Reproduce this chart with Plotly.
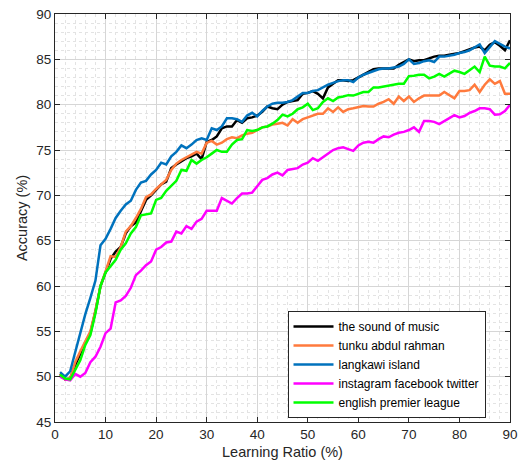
import plotly.graph_objects as go

ratio = list(range(1, 91))

sound_of_music = [
    50.3, 49.7, 49.8, 51.3, 52.5, 53.8, 54.8, 57.2, 60.0, 61.5,
    63.0, 63.8, 64.3, 65.8, 66.6, 67.0, 68.2, 69.5, 70.0, 70.6,
    71.2, 71.5, 73.0, 73.4, 73.8, 74.1, 74.3, 74.6, 74.0, 75.9,
    76.1, 76.5, 77.4, 77.6, 77.6, 78.3, 78.0, 78.5, 78.6, 78.8,
    79.2, 79.8, 79.6, 79.5, 80.0, 80.3, 80.4, 80.5, 81.2, 81.3,
    81.5, 81.2, 80.7, 81.9, 82.3, 82.7, 82.7, 82.6, 82.7, 83.0,
    83.3, 83.6, 83.9, 84.0, 84.0, 84.0, 84.0, 84.4, 84.7, 85.0,
    84.8, 84.9, 84.9, 85.1, 85.3, 85.4, 85.4, 85.5, 85.6, 85.7,
    85.9, 86.1, 86.3, 86.4, 86.0, 86.6, 86.9, 86.5, 86.0, 87.1,
]

tunku_abdul_rahman = [
    50.3, 49.7, 49.8, 51.6, 52.8, 53.9, 55.0, 57.3, 60.0, 61.6,
    63.3, 63.2, 64.3, 66.0, 66.6, 67.5, 68.5, 69.8, 70.1, 70.7,
    71.2, 71.7, 72.8, 73.5, 73.9, 74.2, 74.5, 74.8, 74.6, 75.8,
    76.0, 75.6, 75.8, 76.2, 76.4, 76.3, 76.6, 76.8, 76.9, 77.2,
    77.5, 77.6, 77.8, 77.9, 78.0, 77.7, 78.4, 78.0, 78.4, 78.6,
    78.8, 79.0, 79.0, 79.6, 79.2, 79.7, 79.2, 79.5, 79.6, 79.7,
    79.85, 79.8, 79.8, 80.1, 80.3, 80.6, 80.1, 80.9, 80.4, 80.9,
    80.3, 80.7, 81.0, 81.0, 81.0, 81.0, 81.4, 81.0, 80.7, 81.5,
    81.5, 81.6, 82.2, 81.4, 82.2, 82.8, 82.3, 82.6, 81.2, 81.2,
]

langkawi_island = [
    50.5, 50.0, 50.6, 52.7, 55.0, 56.9, 58.7, 60.6, 64.5, 65.2,
    66.3, 67.5, 68.3, 69.0, 69.4, 70.6, 71.4, 71.6, 72.3, 72.8,
    73.6, 73.4, 74.3, 74.8, 75.5, 75.2, 75.6, 76.1, 76.3, 76.1,
    77.4, 77.2, 77.6, 78.5, 78.5, 78.4, 78.1, 78.8, 79.1, 78.7,
    79.3, 79.8, 80.1, 80.2, 80.2, 80.3, 80.5, 80.9, 81.3, 81.3,
    81.5, 81.6, 81.9, 82.2, 82.4, 82.6, 82.7, 82.7, 82.5, 83.0,
    83.3, 83.5, 83.7, 83.9, 84.0, 84.0, 84.1, 84.2, 84.5, 85.0,
    84.5, 84.6, 84.8, 84.9, 84.7, 85.3, 85.3, 85.4, 85.5, 85.7,
    85.8, 86.0, 86.3, 86.65, 85.7, 86.4, 87.0, 86.7, 86.4, 86.2,
]

instagram_facebook_twitter = [
    50.0, 49.7, 49.6, 50.3, 50.0, 50.4, 51.6, 52.2, 53.3, 54.8,
    55.3, 58.2, 58.4, 58.9, 59.8, 61.2, 61.7, 62.3, 62.7, 64.0,
    64.3, 64.8, 64.9, 66.0, 65.8, 66.6, 66.3, 67.1, 67.4, 68.3,
    68.3, 68.3, 69.7, 69.4, 69.1, 69.7, 70.2, 70.2, 70.3, 71.0,
    71.7, 71.9, 72.3, 72.5, 72.2, 72.8, 72.9, 73.0, 73.4, 73.6,
    74.1, 73.8, 74.2, 74.6, 75.0, 75.2, 75.3, 75.1, 74.9, 75.5,
    75.8, 75.9, 75.8, 76.2, 76.5, 76.4, 76.7, 76.9, 77.0, 77.2,
    77.5, 77.0, 78.2, 78.2, 78.1, 77.85, 78.2, 78.5, 78.85, 78.6,
    78.75, 79.1, 79.3, 79.6, 79.6, 79.5, 78.9, 78.95, 79.3, 80.0,
]

english_premier_league = [
    50.2, 49.8, 49.7, 50.8, 51.8, 53.5, 54.6, 57.0, 60.0, 61.5,
    62.2, 62.9, 64.0, 64.7, 65.8, 66.5, 67.8, 67.9, 68.0, 69.5,
    69.7, 70.5, 71.0, 71.6, 72.8, 72.7, 73.9, 73.5, 73.9, 74.2,
    74.6, 75.0, 74.8, 74.8, 75.6, 76.1, 76.2, 77.2, 77.1, 77.2,
    77.5, 77.6, 77.9, 78.3, 78.9, 78.7, 79.0, 79.5, 79.7, 80.1,
    79.4, 79.6, 80.3, 80.7, 80.4, 80.8, 80.9, 81.05, 81.0, 81.2,
    81.4, 81.4, 81.9, 81.9, 82.0, 82.05, 82.2, 82.3, 82.3, 83.15,
    83.2, 83.3, 83.3, 82.9, 83.1, 83.4, 83.1, 83.4, 83.75, 83.6,
    83.4, 83.8, 84.2, 83.6, 85.3, 84.3, 84.2, 84.2, 84.0, 84.6,
]

series = [
    ("the sound of music", sound_of_music, "#000000"),
    ("tunku abdul rahman", tunku_abdul_rahman, "#FF7A3D"),
    ("langkawi island", langkawi_island, "#0072BD"),
    ("instagram facebook twitter", instagram_facebook_twitter, "#FF00FF"),
    ("english premier league", english_premier_league, "#00FF00"),
]

FONT = "Liberation Sans, Arial, sans-serif"

fig = go.Figure()
for name, values, color in series:
    fig.add_trace(go.Scatter(
        x=ratio, y=values, mode="lines", name=name,
        line=dict(color=color, width=2.5),
    ))

axis_common = dict(
    showline=True, linecolor="#262626", linewidth=1, mirror="allticks",
    ticks="inside", ticklen=5, tickcolor="#262626",
    showgrid=True, gridcolor="#d6d6d6", gridwidth=1,
    zeroline=False, automargin=False,
    tickfont=dict(family=FONT, size=13.5, color="#262626"),
    title_font=dict(family=FONT, size=14.5, color="#262626"),
)

fig.update_xaxes(
    range=[0, 90], tick0=0, dtick=10,
    minor=dict(dtick=2, showgrid=True, gridcolor="#e3e3e3", griddash="dot", gridwidth=1, ticks=""),
    title_text="Learning Ratio (%)", title_standoff=5,
    **axis_common,
)
fig.update_yaxes(
    range=[45, 90], tick0=45, dtick=5,
    minor=dict(dtick=1, showgrid=True, gridcolor="#e3e3e3", griddash="dot", gridwidth=1, ticks=""),
    title_text="Accuracy (%)", title_standoff=5,
    **axis_common,
)

fig.update_layout(
    width=519, height=468,
    margin=dict(l=55, r=9, t=14, b=46),
    paper_bgcolor="white", plot_bgcolor="white",
    font=dict(family=FONT, color="#262626"),
    legend=dict(
        x=0.511, y=0.272, xanchor="left", yanchor="top",
        bgcolor="white", bordercolor="#262626", borderwidth=1,
        font=dict(family=FONT, size=12, color="#000000"),
        tracegroupgap=0, itemwidth=40,
    ),
    showlegend=True,
)

fig.write_html("out.html")
